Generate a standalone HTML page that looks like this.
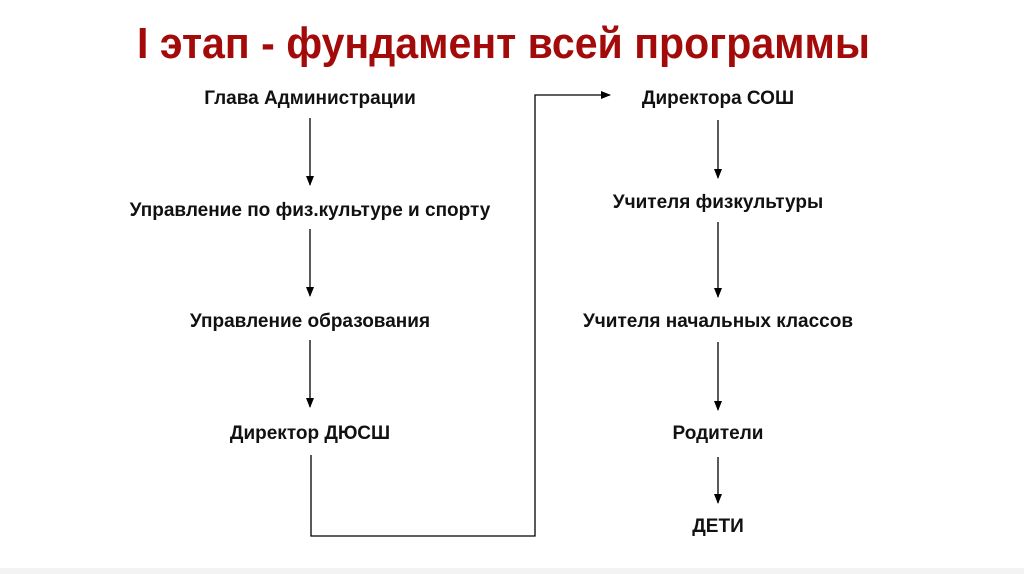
<!DOCTYPE html>
<html><head><meta charset="utf-8"><style>
html,body{margin:0;padding:0;background:#fff;}
svg{display:block}
</style></head><body>
<svg width="1024" height="574" viewBox="0 0 1024 574" xmlns="http://www.w3.org/2000/svg">
<defs><marker id="a" markerWidth="10" markerHeight="10" refX="9" refY="5" orient="auto" markerUnits="userSpaceOnUse"><path d="M0,1 L10,5 L0,9 Z" fill="#000"/></marker></defs>
<rect x="0" y="568" width="1024" height="6" fill="#f3f3f3"/>
<text x="137" y="58" font-family="Liberation Sans Narrow, Liberation Sans, sans-serif" font-weight="bold" font-size="44" fill="#a30a0a" textLength="733" lengthAdjust="spacingAndGlyphs">I этап - фундамент всей программы</text>
<g font-family="Liberation Sans, sans-serif" font-weight="bold" font-size="19" fill="#111" text-anchor="middle">
<text x="310" y="104">Глава Администрации</text>
<text x="310" y="216">Управление по физ.культуре и спорту</text>
<text x="310" y="327">Управление образования</text>
<text x="310" y="439">Директор ДЮСШ</text>
<text x="718" y="104">Директора СОШ</text>
<text x="718" y="208">Учителя физкультуры</text>
<text x="718" y="327">Учителя начальных классов</text>
<text x="718" y="439">Родители</text>
<text x="718" y="532">ДЕТИ</text>
</g>
<g stroke="#000" stroke-width="1.3" fill="none">
<line x1="310" y1="118" x2="310" y2="185" marker-end="url(#a)"/>
<line x1="310" y1="229" x2="310" y2="296" marker-end="url(#a)"/>
<line x1="310" y1="340" x2="310" y2="407" marker-end="url(#a)"/>
<line x1="718" y1="120" x2="718" y2="178" marker-end="url(#a)"/>
<line x1="718" y1="222" x2="718" y2="297" marker-end="url(#a)"/>
<line x1="718" y1="342" x2="718" y2="410" marker-end="url(#a)"/>
<line x1="718" y1="457" x2="718" y2="503" marker-end="url(#a)"/>
<polyline points="311,455 311,536 535,536 535,95 610,95" marker-end="url(#a)"/>
</g>
</svg>
</body></html>
